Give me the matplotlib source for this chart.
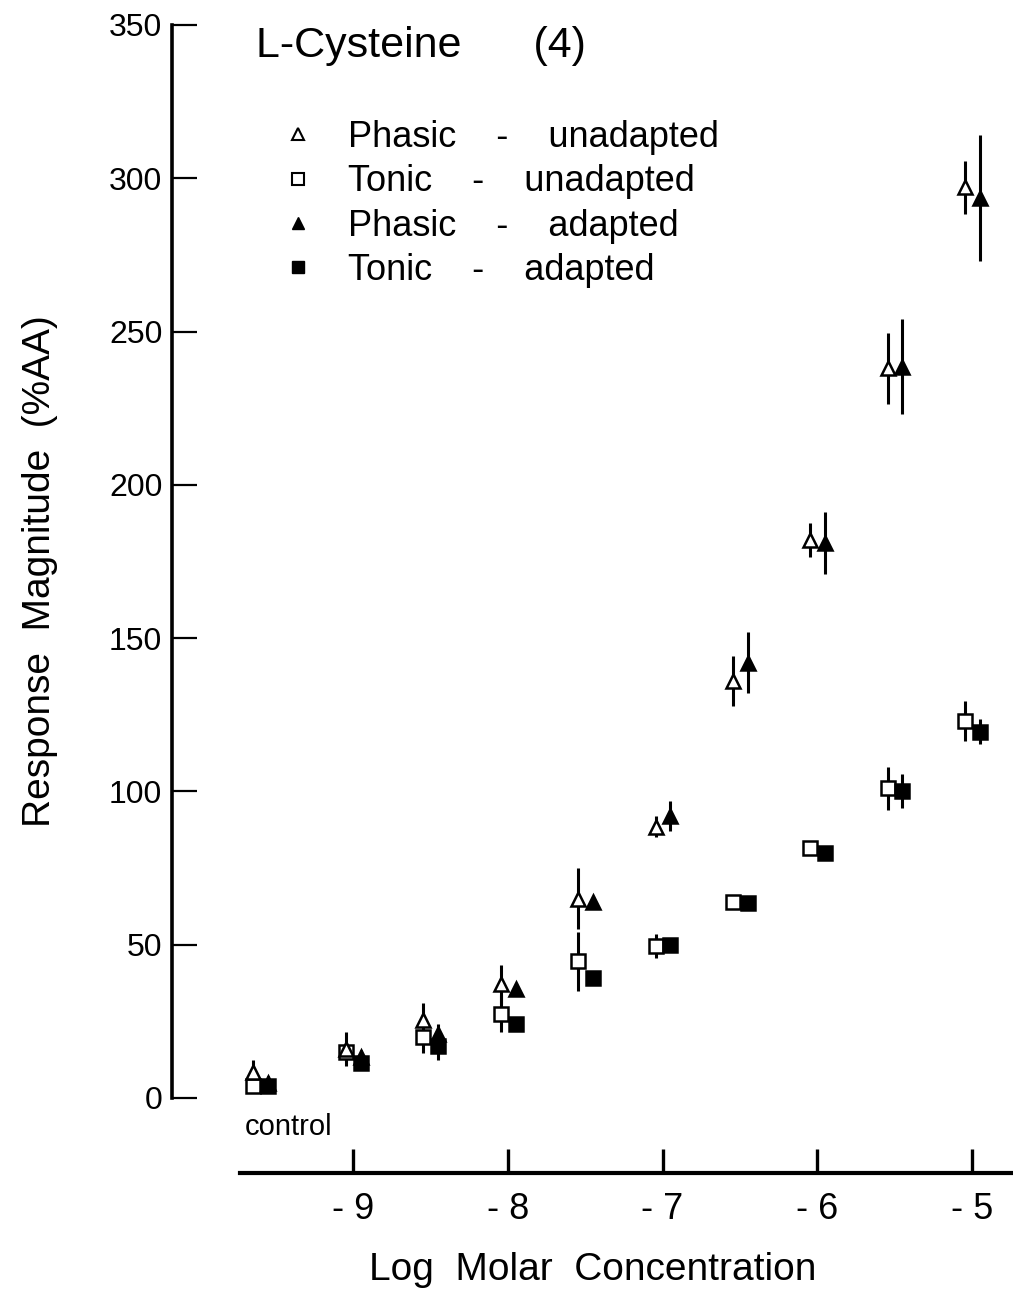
import matplotlib
matplotlib.use("Agg")
import matplotlib.pyplot as plt
from matplotlib.lines import Line2D

plt.rcParams["font.family"] = ["Liberation Sans", "DejaVu Sans"]

# log molar concentration; the control is drawn left of -9
CONTROL_POS = -9.6
conc = [CONTROL_POS, -9, -8.5, -8, -7.5, -7, -6.5, -6, -5.5, -5]

phasic_unadapted = [8.5, 16, 25.5, 37, 65, 88.5, 136, 182, 238, 297]
phasic_unadapted_err = [4, 5.5, 5.5, 6.5, 10, 3.5, 8, 5.5, 11.5, 8.5]

tonic_unadapted = [4, 15, 20, 27.5, 44.5, 49.5, 64, 81.5, 101, 123]
tonic_unadapted_err = [1.5, 3, 5.5, 6, 9.5, 4, 2, 2, 7, 6.5]

phasic_adapted = [5, 13.5, 21, 35.5, 64, 92, 142, 181, 238.5, 293.5]
phasic_adapted_err = [2, 2, 3, 2, 2, 5, 10, 10, 15.5, 20.5]

tonic_adapted = [4, 11.5, 17, 24, 39, 50, 63.5, 80, 100, 119.5]
tonic_adapted_err = [2.5, 1.5, 4.5, 1.5, 1.5, 1, 2, 2, 5.5, 4]

xticks = [-9, -8, -7, -6, -5]
xtick_labels = ["- 9", "- 8", "- 7", "- 6", "- 5"]
yticks = [0, 50, 100, 150, 200, 250, 300, 350]

OPEN_DX = -0.045
FILLED_DX = 0.05

fig = plt.figure(figsize=(10.13, 12.89), dpi=100)
ax = fig.add_axes([172 / 1013, 116 / 1289, 841 / 1013, 1148 / 1289])
ax.set_xlim(-10.17, -4.735)
ax.set_ylim(-24.5, 350)

# (values, errors, marker, face colour, x offset, size, z-order)
series = [
    (tonic_unadapted, tonic_unadapted_err, "s", "white", OPEN_DX, 10.5, 3),
    (tonic_adapted, tonic_adapted_err, "s", "black", FILLED_DX, 10.5, 3),
    (phasic_unadapted, phasic_unadapted_err, "^", "white", OPEN_DX, 10, 4),
    (phasic_adapted, phasic_adapted_err, "^", "black", FILLED_DX, 10, 4),
]

# error bars first so every marker sits on top
for vals, errs, mk, fc, dx, ms, z in series:
    xs = [c + dx for c in conc]
    ax.errorbar(xs, vals, yerr=errs, fmt="none", ecolor="black",
                elinewidth=2.2, capsize=0, zorder=2)
for vals, errs, mk, fc, dx, ms, z in series:
    xs = [c + dx for c in conc]
    ax.plot(xs, vals, linestyle="none", marker=mk, markersize=ms,
            markerfacecolor=fc, markeredgecolor="black",
            markeredgewidth=1.8, zorder=z)

for side in ["top", "right"]:
    ax.spines[side].set_visible(False)
ax.spines["left"].set_bounds(0, 350)
ax.spines["left"].set_linewidth(2.6)
ax.spines["bottom"].set_bounds(-9.73, -4.735)
ax.spines["bottom"].set_linewidth(3.0)

ax.set_yticks(yticks)
ax.set_yticklabels([str(v) for v in yticks], fontsize=23)
ax.tick_params(axis="y", direction="in", length=18, width=1.6, pad=7)

ax.set_xticks(xticks)
ax.set_xticklabels(xtick_labels, fontsize=26)
ax.tick_params(axis="x", direction="in", length=17, width=2.4, pad=14)

ax.set_ylabel("Response  Magnitude  (%AA)", fontsize=28)
ax.yaxis.set_label_coords(-0.135, 0.524)
ax.set_xlabel("Log  Molar  Concentration", fontsize=28, labelpad=18)

ax.text(-9.7, -9.5, "control", fontsize=21, ha="left", va="center")
ax.text(0.1, 0.982, "L-Cysteine      (4)", transform=ax.transAxes,
        fontsize=31, ha="left", va="center")

handles = [
    Line2D([], [], linestyle="none", marker="^", markersize=8,
           markerfacecolor="white", markeredgecolor="black", markeredgewidth=1.5),
    Line2D([], [], linestyle="none", marker="s", markersize=8,
           markerfacecolor="white", markeredgecolor="black", markeredgewidth=1.5),
    Line2D([], [], linestyle="none", marker="^", markersize=8,
           markerfacecolor="black", markeredgecolor="black"),
    Line2D([], [], linestyle="none", marker="s", markersize=8,
           markerfacecolor="black", markeredgecolor="black"),
]
labels = ["Phasic    -    unadapted", "Tonic    -    unadapted",
          "Phasic    -    adapted", "Tonic    -    adapted"]
ax.legend(handles, labels, loc="upper left", bbox_to_anchor=(0.115, 0.93),
          frameon=False, fontsize=26, handlelength=0.8, handletextpad=1.0,
          labelspacing=0.26, borderaxespad=0)

fig.savefig("out.png", dpi=100)
